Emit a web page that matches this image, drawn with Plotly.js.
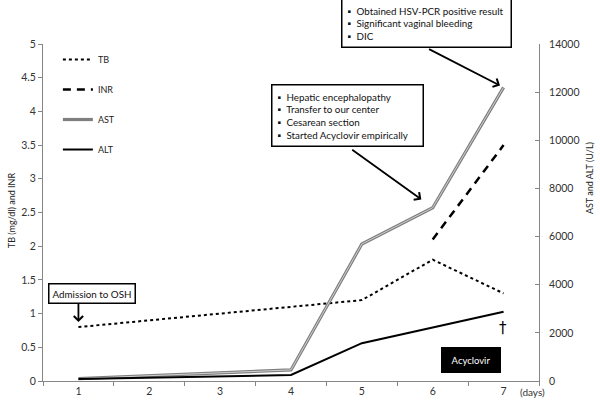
<!DOCTYPE html>
<html>
<head>
<meta charset="utf-8">
<script src="https://cdn.plot.ly/plotly-3.0.1.min.js"></script>
<style>html,body{margin:0;padding:0;background:#fff;}#chart{width:600px;height:405px;}</style>
</head>
<body>
<div id="chart"></div>
<script>
// ---- data ----
const days = ['1', '2', '3', '4', '5', '6', '7'];
const tb   = [0.8, null, null, 1.1, 1.2, 1.8, 1.3];      // mg/dl (left axis)
const inr  = [null, null, null, null, null, 2.1, 3.5];   // left axis
const ast  = [100, null, null, 460, 5690, 7200, 12200];  // U/L (right axis)
const alt  = [80, null, null, 250, 1570, 2240, 2880];    // U/L (right axis)
const leftTicks  = [0, 0.5, 1, 1.5, 2, 2.5, 3, 3.5, 4, 4.5, 5];
const rightTicks = [0, 2000, 4000, 6000, 8000, 10000, 12000, 14000];
const box1Lines = ['Hepatic encephalopathy', 'Transfer to our center', 'Cesarean section', 'Started Acyclovir empirically'];
const box2Lines = ['Obtained HSV-PCR positive result', 'Significant vaginal bleeding', 'DIC'];

const FONT = 'Lato, "Open Sans", sans-serif';
const AX = '#868686';
const bullet = l => '\u25AA&nbsp;&nbsp;' + l;
const idx = d => days.indexOf(d);

const traces = [
  {x: days, y: tb, name: 'TB', mode: 'lines', connectgaps: true, legendgroup: 'a',
   line: {color: '#000', width: 2, dash: 'dot'}, yaxis: 'y'},
  {x: days, y: inr, name: 'INR', mode: 'lines', connectgaps: true, legendgroup: 'b',
   line: {color: '#000', width: 2.5, dash: '8px,6px'}, yaxis: 'y'},
  {x: days, y: ast, name: 'AST', mode: 'lines', connectgaps: true, legendgroup: 'c',
   line: {color: '#7f7f7f', width: 3.2}, yaxis: 'y2'},
  {x: days, y: ast, name: 'AST', mode: 'lines', connectgaps: true, legendgroup: 'c', showlegend: false,
   line: {color: '#cfcfcf', width: 1}, yaxis: 'y2', hoverinfo: 'skip'},
  {x: days, y: alt, name: 'ALT', mode: 'lines', connectgaps: true, legendgroup: 'd',
   line: {color: '#000', width: 2}, yaxis: 'y2'}
];

const tickFont = {family: FONT, size: 10.5, color: '#333'};
const boxFont = {family: FONT, size: 9.8, color: '#111'};

const txt = (x, y, text, extra) => Object.assign({xref: 'paper', yref: 'paper', x: x, y: y, text: text,
  showarrow: false, xanchor: 'center', yanchor: 'middle'}, extra || {});

const layout = {
  width: 600, height: 405,
  margin: {l: 43, r: 61, t: 44, b: 24},
  paper_bgcolor: '#fff', plot_bgcolor: '#fff',
  showlegend: true,
  legend: {x: 0.03, y: 0.997, xanchor: 'left', yanchor: 'top', bgcolor: 'rgba(0,0,0,0)',
           font: {family: FONT, size: 9, color: '#222'}, traceorder: 'grouped', tracegroupgap: 11},
  xaxis: {type: 'category', range: [-0.5, 6.5], tickson: 'boundaries', ticks: 'outside', ticklen: 4,
          tickcolor: AX, showline: true, linecolor: AX, linewidth: 1, showgrid: false, zeroline: false,
          tickfont: tickFont},
  yaxis: {range: [0, 5], tickvals: leftTicks, ticktext: leftTicks.map(String), ticks: 'outside', ticklen: 4,
          tickcolor: AX, showline: true, linecolor: AX, linewidth: 1, showgrid: false, zeroline: false,
          tickfont: tickFont},
  yaxis2: {range: [0, 14000], tickvals: rightTicks, ticktext: rightTicks.map(String), overlaying: 'y', side: 'right',
           ticks: 'inside', ticklen: 4, tickcolor: AX, showline: true, linecolor: AX, linewidth: 1,
           showgrid: false, zeroline: false, tickfont: tickFont, ticklabelstandoff: 7},
  annotations: [
    // axis titles
    txt(-0.0645, 0.507, 'TB (mg/dl) and INR', {textangle: -90, font: {family: FONT, size: 9, color: '#222'}}),
    txt(1.1008, 0.602, 'AST and ALT (U/L)', {textangle: -90, font: {family: FONT, size: 9, color: '#222'}}),
    txt(0.986, -0.0326, '(days)', {font: {family: FONT, size: 10, color: '#333'}}),
    // event boxes
    txt(0.0978, 0.261, 'Admission to OSH', {font: boxFont, bgcolor: '#fff', bordercolor: '#000',
        borderwidth: 1.5, borderpad: 3}),
    txt(0.4597, 0.881, box1Lines.map(bullet).join('<br>'), {xanchor: 'left', yanchor: 'top', align: 'left',
        font: boxFont, bgcolor: '#fff', bordercolor: '#000', borderwidth: 1.5, borderpad: 5, width: 140}),
    txt(0.601, 0.988, box2Lines.map(bullet).join('<br>'), {xanchor: 'left', yanchor: 'bottom', align: 'left',
        font: boxFont, bgcolor: '#fff', bordercolor: '#000', borderwidth: 1.5, borderpad: 5, width: 158}),
    txt(0.862, 0.0623, 'Acyclovir', {font: {family: FONT, size: 9.5, color: '#fff'}, bgcolor: '#000',
        bordercolor: '#000', borderwidth: 1, borderpad: 3, width: 52, height: 18}),
    txt(0.927, 0.157, '\u2020', {font: {family: '"DejaVu Sans", sans-serif', size: 15, color: '#000'}}),
    // arrows
    {x: idx('1'), y: tb[idx('1')], xref: 'x', yref: 'y', text: '', showarrow: true, ax: 0, ay: -25, standoff: 5,
     arrowhead: 4, arrowsize: 1, arrowwidth: 1.8, arrowcolor: '#000'},
    {x: idx('6'), y: ast[idx('6')], xref: 'x', yref: 'y2', text: '', showarrow: true, ax: -82, ay: -59, standoff: 14,
     arrowhead: 4, arrowsize: 1, arrowwidth: 1.8, arrowcolor: '#000'},
    {x: idx('7'), y: ast[idx('7')], xref: 'x', yref: 'y2', text: '', showarrow: true, ax: -76, ay: -39, standoff: 4,
     arrowhead: 4, arrowsize: 1, arrowwidth: 1.8, arrowcolor: '#000'}
  ]
};

Plotly.newPlot('chart', traces, layout, {displayModeBar: false, staticPlot: true});
</script>
</body>
</html>
